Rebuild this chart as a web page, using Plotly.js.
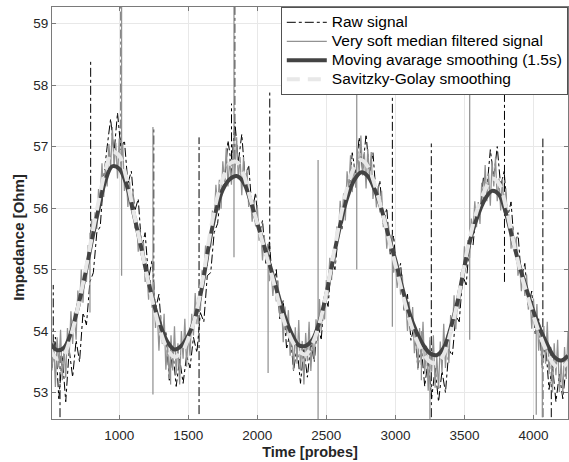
<!DOCTYPE html>
<html><head><meta charset="utf-8">
<script src="https://cdn.plot.ly/plotly-3.0.1.min.js"></script>
<style>html,body{margin:0;padding:0;background:#fff}#chart{width:569px;height:462px}</style>
</head><body><div id="chart"></div>
<script>
const seriesNames = ['Raw signal', 'Very soft median filtered signal', 'Moving avarage smoothing (1.5s)', 'Savitzky-Golay smoothing'];

// raw signal, sampled every 25 probes starting at 512.5
const rawX0 = 512.5, rawStep = 25;
const rawValues = [
53.4,53.9,52.9,53.6,52.85,53.7,53.25,53.85,53.5,54.3,
54.1,54.8,54.95,55.6,55.7,56.5,57.0,57.45,56.9,57.55,
56.95,57.1,56.4,56.6,55.95,56.15,55.35,55.6,54.85,55.15,
54.35,54.6,53.85,54.0,53.2,53.7,53.1,53.55,53.15,53.6,
53.4,53.9,53.65,54.3,54.15,54.9,54.95,55.6,55.75,56.3,
56.4,57.1,56.7,57.4,56.75,57.2,56.45,56.7,55.95,56.25,
55.55,55.8,55.1,55.45,54.7,55.0,54.2,54.5,53.7,54.0,
53.35,53.75,53.15,53.7,53.25,53.8,53.5,54.15,53.85,54.6,
54.4,55.15,55.0,55.6,55.65,56.25,56.2,56.9,56.55,57.15,
56.6,57.2,56.55,56.9,56.15,56.45,55.75,56.0,55.25,55.55,
54.85,55.1,54.35,54.6,53.85,54.1,53.4,53.75,53.1,53.55,
52.9,53.4,52.85,53.35,53.0,53.7,53.6,54.25,54.15,54.9,
54.75,55.45,55.4,56.0,55.9,56.5,56.3,56.95,56.5,57.0,
56.35,56.6,55.85,56.1,55.35,55.6,54.85,55.1,54.4,54.65,
53.95,54.2,53.45,53.8,53.05,53.45,52.85,53.3,52.9,53.45
];
// isolated spikes of the raw signal: position, low end, high end
const rawSpikeX    = [522, 571, 793, 1013, 1250, 1578, 1813, 1837, 2090, 2978, 3260, 3790, 4068, 4129];
const rawSpikeLow  = [53.8, 52.6, 55.5, 57.0, 54.4, 52.65, 56.5, 56.8, 55.0, 55.5, 52.6, 54.8, 52.6, 52.6];
const rawSpikeHigh = [54.75, 53.6, 58.4, 59.4, 57.3, 57.15, 57.7, 59.4, 57.9, 59.4, 57.05, 59.4, 57.13, 53.5];

// very soft median filtered signal, sampled every 12.5 probes starting at 500 (8 values = 100 probes per row)
const medianX0 = 500, medianStep = 12.5;
const medianValues = [
54.20,53.36,53.82,53.09,53.90,53.41,54.02,53.20,
53.72,53.24,54.05,53.59,54.32,53.79,54.30,53.86,
54.66,54.39,55.00,54.46,54.98,54.80,55.40,55.22,
55.82,55.49,55.93,55.66,56.31,56.15,56.73,56.18,
56.70,56.35,57.04,56.66,57.32,56.67,57.06,56.48,
57.13,56.66,57.06,56.28,56.58,56.02,56.43,55.97,
56.28,55.67,55.84,55.29,55.66,55.23,55.45,54.80,
54.96,54.51,54.83,54.38,54.80,54.05,54.34,53.68,
54.26,53.79,54.28,53.37,53.80,53.22,53.93,53.36,
54.08,53.29,53.80,53.13,54.00,53.55,54.20,53.42,
53.96,53.60,54.28,53.93,54.62,54.11,54.60,54.33,
54.99,54.86,55.39,55.06,55.54,55.36,55.96,55.78,
56.38,56.01,56.46,55.99,56.76,56.43,56.98,56.35,
56.80,56.38,56.99,56.55,57.15,56.47,56.83,56.21,
56.83,56.34,56.63,56.02,56.21,55.78,56.13,55.70,
56.05,55.47,55.67,55.15,55.56,55.16,55.42,54.81,
55.01,54.57,54.91,54.48,54.82,54.24,54.47,53.82,
54.40,53.93,54.34,53.60,53.95,53.36,54.06,53.47,
54.18,53.36,53.84,53.13,53.97,53.51,54.15,53.35,
53.88,53.52,54.19,53.84,54.52,54.00,54.47,54.19,
54.83,54.68,55.19,54.83,55.28,55.10,55.70,55.52,
56.12,55.77,56.24,55.80,56.60,56.29,56.86,56.26,
56.73,56.33,56.97,56.56,57.18,56.53,56.91,56.32,
56.96,56.50,56.91,56.15,56.44,56.01,56.36,55.93,
56.28,55.69,55.87,55.34,55.73,55.32,55.57,54.95,
55.14,54.70,55.03,54.59,54.92,54.33,54.52,54.00,
54.48,54.00,54.39,53.64,53.98,53.37,54.05,53.45,
54.15,53.31,53.76,53.03,53.85,53.34,53.93,53.08,
53.58,53.06,53.83,53.33,54.12,53.40,53.94,53.48,
54.26,53.98,54.58,54.03,54.54,54.36,54.96,54.78,
55.38,55.04,55.48,55.19,55.83,55.64,56.11,55.69,
56.10,55.74,56.41,56.04,56.70,56.11,56.56,56.04,
56.76,56.35,56.82,56.11,56.48,55.96,56.48,55.93,
56.32,55.72,55.89,55.34,55.71,55.29,55.52,54.90,
55.08,54.65,54.99,54.57,54.92,54.35,54.55,54.04,
54.53,54.05,54.44,53.68,54.02,53.40,54.08,53.47,
54.15,53.30,53.74,53.00,53.80,53.28,53.86,53.01,
53.50,52.97,53.74,53.22,54.00
];
const medianSpikeX    = [788, 1017, 1244, 1372, 1831, 2078, 2440, 2720, 2978, 3188, 3250, 3538, 4020, 4064];
const medianSpikeLow  = [54.3, 54.9, 52.97, 53.13, 55.2, 53.32, 52.5, 55.0, 54.07, 53.2, 52.5, 53.86, 52.64, 52.6];
const medianSpikeHigh = [55.6, 59.4, 57.32, 53.8, 59.4, 55.2, 56.78, 59.4, 55.3, 54.0, 53.9, 59.4, 54.3, 54.0];

// smoothed curves, sampled every 50 probes starting at 500
const smoothX0 = 500, smoothStep = 50;
const movingAverage = [
53.80,53.69,53.73,53.97,54.38,54.88,55.45,55.98,56.45,56.68,
56.64,56.40,55.95,55.45,54.92,54.45,54.08,53.82,53.70,53.76,
53.93,54.22,54.72,55.40,55.95,56.30,56.47,56.52,56.42,56.12,
55.75,55.38,55.00,54.60,54.23,53.95,53.77,53.76,53.86,54.15,
54.60,55.18,55.72,56.16,56.45,56.58,56.52,56.30,55.98,55.55,
55.15,54.70,54.30,54.00,53.78,53.64,53.61,53.73,54.05,54.48,
55.05,55.55,55.90,56.15,56.28,56.22,55.92,55.48,55.05,54.68,
54.32,54.02,53.78,53.58,53.52,53.60
];
const savitzkyGolay = [
53.70,53.55,53.62,53.92,54.38,54.92,55.52,56.10,56.62,56.92,
56.85,56.50,55.98,55.45,54.90,54.40,53.98,53.70,53.58,53.65,
53.88,54.22,54.78,55.48,56.08,56.48,56.72,56.75,56.55,56.15,
55.75,55.35,54.95,54.52,54.12,53.85,53.68,53.62,53.80,54.12,
54.62,55.22,55.82,56.32,56.65,56.78,56.68,56.38,55.98,55.52,
55.08,54.62,54.20,53.88,53.65,53.50,53.48,53.62,53.98,54.48,
55.08,55.62,56.02,56.30,56.48,56.40,56.02,55.50,55.02,54.62,
54.25,53.92,53.65,53.45,53.40,53.50
];

const xTickValues = [1000, 1500, 2000, 2500, 3000, 3500, 4000];
const yTickValues = [53, 54, 55, 56, 57, 58, 59];
const xRange = [513, 4250];
const yRange = [52.57, 59.27];

function sampled(x0, step, vals) { return vals.map((v, i) => x0 + i * step); }
function spikes(xs, lo, hi) {
  const x = [], y = [];
  xs.forEach((v, i) => { x.push(v, v, null); y.push(lo[i], hi[i], null); });
  return {x, y};
}
// legend label: glyphs drawn larger than the legend row spacing
function legendLabel(s) { return '<span style="font-size:15.5px">' + s + '</span>'; }

const rawSp = spikes(rawSpikeX, rawSpikeLow, rawSpikeHigh);
const medSp = spikes(medianSpikeX, medianSpikeLow, medianSpikeHigh);

const rawLine = {color: '#000000', width: 1, dash: 'dashdot'};
const medLine = {color: '#929292', width: 1.25};

const traces = [
  {type: 'scatter', mode: 'lines', name: legendLabel(seriesNames[0]), legendgroup: 'raw',
   x: sampled(rawX0, rawStep, rawValues), y: rawValues, line: rawLine},
  {type: 'scatter', mode: 'lines', name: seriesNames[0], legendgroup: 'raw', showlegend: false,
   x: rawSp.x, y: rawSp.y, line: rawLine, connectgaps: false},
  {type: 'scatter', mode: 'lines', name: legendLabel(seriesNames[1]), legendgroup: 'med',
   x: sampled(medianX0, medianStep, medianValues), y: medianValues, line: medLine},
  {type: 'scatter', mode: 'lines', name: seriesNames[1], legendgroup: 'med', showlegend: false,
   x: medSp.x, y: medSp.y, line: medLine, connectgaps: false},
  {type: 'scatter', mode: 'lines', name: legendLabel(seriesNames[2]),
   x: sampled(smoothX0, smoothStep, movingAverage), y: movingAverage,
   line: {color: '#434343', width: 4, shape: 'spline', smoothing: 1}},
  {type: 'scatter', mode: 'lines', name: legendLabel(seriesNames[3]),
   x: sampled(smoothX0, smoothStep, savitzkyGolay), y: savitzkyGolay,
   line: {color: '#e8e8e8', width: 4, dash: '13px,8px', shape: 'spline', smoothing: 1}}
];

const axisCommon = {
  showgrid: true, gridcolor: '#e8e8e8', gridwidth: 1, zeroline: false,
  showline: true, linecolor: '#7a7a7a', linewidth: 1, mirror: 'ticks',
  ticks: 'inside', ticklen: 4, tickcolor: '#7a7a7a', tickwidth: 1,
  tickfont: {size: 13.5, color: '#262626'}
};

const layout = {
  width: 569, height: 462,
  margin: {l: 52, r: 1, t: 7, b: 43, pad: 0},
  paper_bgcolor: '#ffffff', plot_bgcolor: '#ffffff',
  font: {family: '"Liberation Sans", Arial, Helvetica, sans-serif', color: '#262626', size: 13.5},
  showlegend: true,
  legend: {x: 1, y: 1, xanchor: 'right', yanchor: 'top', bgcolor: '#ffffff',
           bordercolor: '#262626', borderwidth: 0.8, itemwidth: 40,
           font: {size: 12.2, color: '#000000'}, tracegroupgap: 0},
  xaxis: Object.assign({}, axisCommon, {
    range: xRange, tickvals: xTickValues, ticktext: xTickValues.map(String),
    ticklabelstandoff: 4,
    title: {text: '<b>Time [probes]</b>', font: {size: 14.5, color: '#262626'}, standoff: 4}
  }),
  yaxis: Object.assign({}, axisCommon, {
    range: yRange, tickvals: yTickValues, ticktext: yTickValues.map(String)
  }),
  annotations: [{
    text: '<b>Impedance [Ohm]</b>', xref: 'paper', yref: 'paper',
    x: -0.064, y: 0.442, xanchor: 'center', yanchor: 'middle',
    textangle: -90, showarrow: false, font: {size: 15, color: '#262626'}
  }]
};

Plotly.newPlot('chart', traces, layout, {staticPlot: true, displayModeBar: false});
</script></body></html>
